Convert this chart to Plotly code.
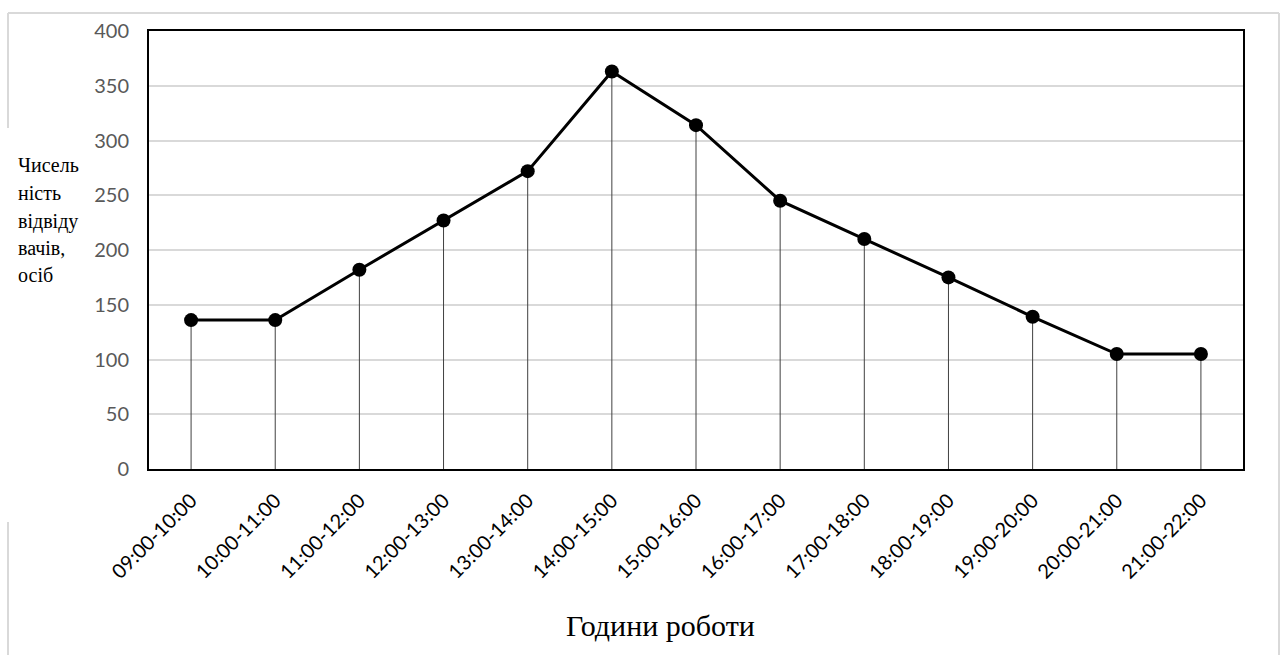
import plotly.graph_objects as go

# Hourly visitor counts
hours = ["09:00-10:00", "10:00-11:00", "11:00-12:00", "12:00-13:00", "13:00-14:00",
         "14:00-15:00", "15:00-16:00", "16:00-17:00", "17:00-18:00", "18:00-19:00",
         "19:00-20:00", "20:00-21:00", "21:00-22:00"]
visitors = [136, 136, 182, 227, 272, 363, 314, 245, 210, 175, 139, 105, 105]

y_ticks = [0, 50, 100, 150, 200, 250, 300, 350, 400]
y_title_lines = ["Чисель", "ність", "відвіду", "вачів,", "осіб"]
x_title = "Години роботи"

W, H = 1283, 655
L, R, T, B = 149, 40, 31, 186
plot_w = W - L - R
plot_h = H - T - B


def px_x(p):
    return (p - L) / plot_w


def px_y(p):
    return (H - B - p) / plot_h


fig = go.Figure()

# thin drop lines from each point down to zero
fig.add_trace(go.Scatter(
    x=hours, y=visitors, mode="markers",
    marker=dict(size=0.1, color="rgba(0,0,0,0)"),
    error_y=dict(type="data", symmetric=False, array=[0] * len(visitors),
                 arrayminus=visitors, width=0, thickness=1, color="#404040"),
    hoverinfo="skip", showlegend=False,
))

# main line with markers
fig.add_trace(go.Scatter(
    x=hours, y=visitors, mode="lines+markers",
    line=dict(color="black", width=3),
    marker=dict(size=14, color="black"),
    showlegend=False,
))

# outer frame segments (light gray)
frame = dict(color="#d9d9d9", width=2)
shapes = [
    dict(type="line", xref="paper", yref="paper", x0=px_x(8), x1=px_x(1279), y0=px_y(13), y1=px_y(13), line=frame),
    dict(type="line", xref="paper", yref="paper", x0=px_x(1279), x1=px_x(1279), y0=px_y(13), y1=px_y(660), line=frame),
    dict(type="line", xref="paper", yref="paper", x0=px_x(8), x1=px_x(8), y0=px_y(13), y1=px_y(128), line=frame),
    dict(type="line", xref="paper", yref="paper", x0=px_x(8), x1=px_x(8), y0=px_y(522), y1=px_y(660), line=frame),
]

annotations = []
line_y = [165, 193, 221, 248, 275]
for txt, yy in zip(y_title_lines, line_y):
    annotations.append(dict(
        text=txt, xref="paper", yref="paper", x=px_x(16), y=px_y(yy),
        xanchor="left", yanchor="middle", showarrow=False,
        font=dict(family="Liberation Serif", size=20, color="black"),
    ))
annotations.append(dict(
    text=x_title, xref="paper", yref="paper", x=px_x(660), y=px_y(625),
    xanchor="center", yanchor="middle", showarrow=False,
    font=dict(family="Liberation Serif", size=30, color="black"),
))

fig.update_layout(
    width=W, height=H,
    margin=dict(l=L, r=R, t=T, b=B),
    paper_bgcolor="white", plot_bgcolor="white",
    shapes=shapes, annotations=annotations,
    xaxis=dict(
        type="category", range=[-0.5, len(hours) - 0.5],
        tickangle=-45, showgrid=False, zeroline=False,
        showline=True, mirror=True, linecolor="black", linewidth=2,
        ticks="", tickfont=dict(family="Lato", size=20, color="black"),
        ticklabelstandoff=10,
    ),
    yaxis=dict(
        range=[0, 400], tickvals=y_ticks, showgrid=True, gridcolor="#d9d9d9",
        gridwidth=2, zeroline=False,
        showline=True, mirror=True, linecolor="black", linewidth=2,
        ticks="", tickfont=dict(family="Lato", size=20, color="#595959"),
        ticklabelstandoff=14,
    ),
)

fig.write_html("out.html")
